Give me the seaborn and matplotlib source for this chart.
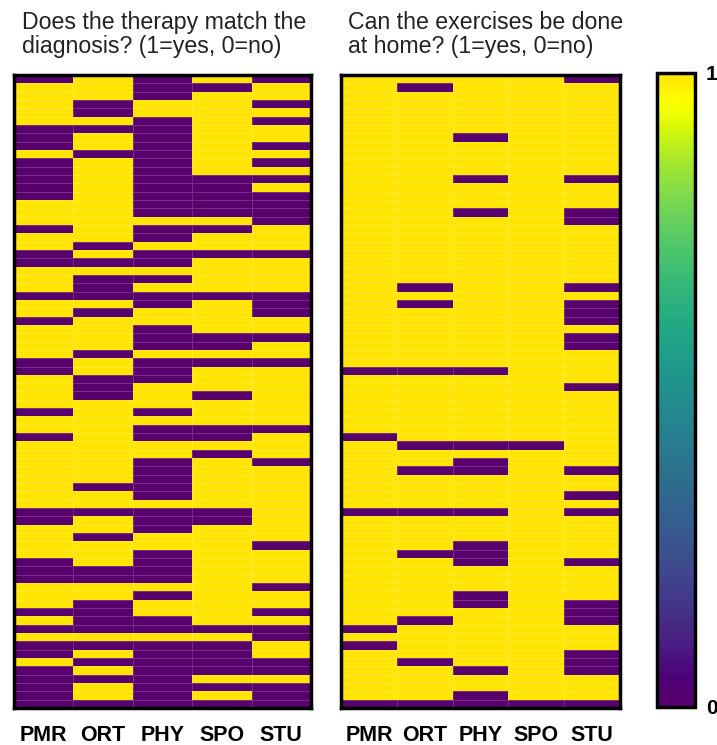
import numpy as np
import pandas as pd
import matplotlib
matplotlib.use("Agg")
import matplotlib.pyplot as plt
import matplotlib.colors as mcolors
import seaborn as sns

sns.set_theme(style="white")
plt.rcParams['font.family'] = ['Liberation Sans', 'DejaVu Sans']

categories = ["PMR", "ORT", "PHY", "SPO", "STU"]
title_left = "Does the therapy match the\ndiagnosis? (1=yes, 0=no)"
title_right = "Can the exercises be done\nat home? (1=yes, 0=no)"
cbar_ticks = [0, 1]
cbar_ticklabels = ["0", "1"]

# Left panel: therapy matches diagnosis (1=yes, 0=no), 76 rows
therapy_pmr = [0,1,1,1,1,1,0,0,0,1, 0,0,0,0,0,1,1,1,0,1, 1,0,0,1,1,1,0,1,1,0,
               1,1,1,1,0,0,1,1,1,1, 0,1,1,0,1,1,1,1,1,1, 1,1,0,0,1,1,1,1,0,0,
               0,1,1,1,0,1,0,1,0,0, 1,0,0,0,0,0]
therapy_ort = [1,1,1,0,0,1,0,1,1,0, 1,1,1,1,1,1,1,1,1,1, 0,1,0,1,0,0,0,1,0,1,
               1,1,1,0,1,1,0,0,0,1, 1,1,1,1,1,1,1,1,1,0, 1,1,0,1,1,0,1,1,1,0,
               0,1,1,0,0,0,0,1,0,1, 0,1,0,1,1,0]
therapy_phy = [0,0,0,1,1,0,0,0,0,0, 0,0,0,0,0,0,0,1,0,0, 1,0,0,1,0,1,0,0,1,1,
               0,0,0,1,0,0,0,1,1,1, 0,1,0,0,1,1,0,0,0,0, 0,1,0,0,0,1,1,0,0,0,
               0,1,0,1,1,0,0,1,0,0, 0,0,0,0,0,0]
therapy_spo = [1,0,1,1,1,1,1,1,1,1, 1,1,0,0,0,0,0,1,0,1, 1,0,1,1,1,1,0,1,1,1,
               1,0,0,1,0,1,1,1,0,1, 1,1,0,0,1,0,1,1,1,1, 1,1,0,0,1,1,1,1,1,1,
               1,1,1,1,1,1,0,1,0,0, 0,0,1,0,1,0]
therapy_stu = [0,1,1,0,1,0,1,1,0,1, 0,1,0,1,0,0,0,0,1,1, 1,0,1,1,1,1,0,0,0,1,
               1,0,1,1,0,1,1,1,1,1, 1,1,0,1,1,1,0,1,1,1, 1,1,1,1,1,1,0,1,1,1,
               1,0,1,1,0,1,0,0,1,1, 0,0,1,0,0,0]

# Right panel: exercises can be done at home (1=yes, 0=no), 76 rows
home_pmr = [1,1,1,1,1,1,1,1,1,1, 1,1,1,1,1,1,1,1,1,1, 1,1,1,1,1,1,1,1,1,1,
            1,1,1,1,1,0,1,1,1,1, 1,1,1,0,1,1,1,1,1,1, 1,1,0,1,1,1,1,1,1,1,
            1,1,1,1,1,1,0,1,0,1, 1,1,1,1,1,0]
home_ort = [1,0,1,1,1,1,1,1,1,1, 1,1,1,1,1,1,1,1,1,1, 1,1,1,1,1,0,1,0,1,1,
            1,1,1,1,1,0,1,1,1,1, 1,1,1,1,0,1,1,0,1,1, 1,1,0,1,1,1,1,0,1,1,
            1,1,1,1,1,0,1,1,1,1, 0,1,1,1,1,0]
home_phy = [1,1,1,1,1,1,1,0,1,1, 1,1,0,1,1,1,0,1,1,1, 1,1,1,1,1,1,1,1,1,1,
            1,1,1,1,1,0,1,1,1,1, 1,1,1,1,0,1,0,0,1,1, 1,1,0,1,1,1,0,0,0,1,
            1,1,0,0,1,1,1,1,1,1, 1,0,1,1,0,0]
home_spo = [1,1,1,1,1,1,1,1,1,1, 1,1,1,1,1,1,1,1,1,1, 1,1,1,1,1,1,1,1,1,1,
            1,1,1,1,1,1,1,1,1,1, 1,1,1,1,0,1,1,1,1,1, 1,1,1,1,1,1,1,1,1,1,
            1,1,1,1,1,1,1,1,1,1, 1,1,1,1,1,0]
home_stu = [0,1,1,1,1,1,1,1,1,1, 1,1,0,1,1,1,0,0,1,1, 1,1,1,1,1,0,1,0,0,0,
            1,0,0,1,1,1,1,0,1,1, 1,1,1,1,1,1,1,0,1,1, 0,1,0,1,1,1,1,1,0,1,
            1,1,1,0,0,0,1,1,1,0, 0,0,1,1,1,0]

df_left = pd.DataFrame(dict(zip(categories, [therapy_pmr, therapy_ort, therapy_phy,
                                             therapy_spo, therapy_stu])))
df_right = pd.DataFrame(dict(zip(categories, [home_pmr, home_ort, home_phy,
                                              home_spo, home_stu])))

# Viridis with more saturated/brighter end colours (as in the reference)
t = np.linspace(0, 1, 256)
base = plt.get_cmap("viridis")(t)[:, :3]
hsv = mcolors.rgb_to_hsv(base)
edge = np.abs(2 * t - 1) ** 4
hsv[:, 1] = np.clip(hsv[:, 1] * (1 + 0.3 * edge), 0, 1)
hsv[:, 2] = np.clip(hsv[:, 2] * (1 + 0.2 * edge) + 0.03 * edge, 0, 1)
cmap = mcolors.ListedColormap(mcolors.hsv_to_rgb(hsv))

W, H = 717, 745
fig = plt.figure(figsize=(W / 100, H / 100), dpi=100)

def px_axes(x0, y0, x1, y1):
    return fig.add_axes([x0 / W, 1 - y1 / H, (x1 - x0) / W, (y1 - y0) / H])

ax_l = px_axes(14, 75, 311, 708)
ax_r = px_axes(341, 75, 620, 708)
cax = px_axes(657, 73, 695, 707)

grid_kw = dict(cmap=cmap, vmin=0, vmax=1, linewidths=0.4,
               linecolor=(1, 1, 1, 0.18), yticklabels=False)
sns.heatmap(df_left, ax=ax_l, cbar=False, **grid_kw)
sns.heatmap(df_right, ax=ax_r, cbar=True, cbar_ax=cax, **grid_kw)

for ax in (ax_l, ax_r):
    for sp in ax.spines.values():
        sp.set_visible(True)
        sp.set_linewidth(2.5)
        sp.set_color("black")
    ax.tick_params(axis="x", length=0, pad=12)
    for lab in ax.get_xticklabels():
        lab.set_fontsize(15.5)
        lab.set_fontweight("bold")
        lab.set_rotation(0)
        lab.set_color("black")

cbar = ax_r.collections[0].colorbar
cbar.outline.set_linewidth(2.5)
cbar.outline.set_edgecolor("black")
cbar.set_ticks(cbar_ticks)
cbar.set_ticklabels(cbar_ticklabels)
cax.tick_params(length=0, pad=8)
for lab in cax.get_yticklabels():
    lab.set_fontsize(15)
    lab.set_fontweight("bold")
    lab.set_color("black")

fig.text(22 / W, 1 - 11 / H, title_left, ha="left", va="top",
         fontsize=16.7, color="#222222", linespacing=1.05)
fig.text(348 / W, 1 - 11 / H, title_right, ha="left", va="top",
         fontsize=16.7, color="#222222", linespacing=1.05)

fig.savefig("out.png", dpi=100)
